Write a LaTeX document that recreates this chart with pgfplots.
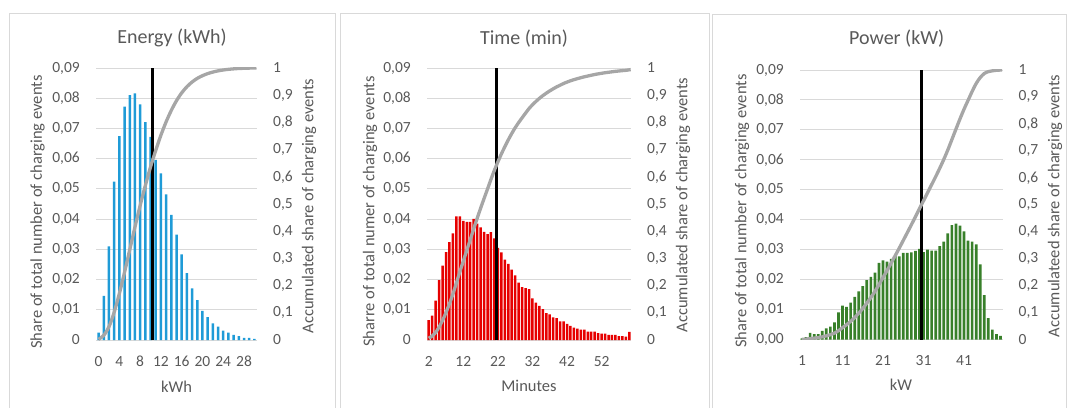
\documentclass[border=0pt]{standalone}
\usepackage{pgfplots}
\pgfplotsset{compat=1.18}
\usepackage{fontspec}
\setmainfont{Carlito}
\definecolor{txt}{HTML}{595959}
\definecolor{gridc}{HTML}{D9D9D9}
\definecolor{framec}{HTML}{D9D9D9}
\definecolor{cum}{HTML}{A6A6A6}
\definecolor{eblue}{HTML}{1F9BD7}
\definecolor{tred}{HTML}{E60000}
\definecolor{pgreen}{HTML}{38802A}
\newcommand{\tickfont}{\fontsize{15.5}{15.5}\selectfont}
\newcommand{\labfont}{\fontsize{16.5}{16.5}\selectfont}
\newcommand{\titfont}{\fontsize{20}{20}\selectfont}
\pgfplotsset{
  base/.style={scale only axis, anchor=south west,
    scaled y ticks=false, scaled x ticks=false,
    /pgf/number format/assume math mode=true,
    /pgf/number format/use comma,
    /pgf/number format/fixed,
    ticklabel style={font=\tickfont, text=txt, inner sep=0pt},
    major tick length=0pt,
    axis line style={draw=none},
    tick style={draw=none},
  },
  leftax/.style={base, ymin=0, ymax=0.09,
    ytick={0,0.01,0.02,0.03,0.04,0.05,0.06,0.07,0.08,0.09},
    ymajorgrids, grid style={gridc, line width=1pt},
    yticklabel style={anchor=east, xshift=-16pt},
    xticklabel style={anchor=north, yshift=-16pt},
    /pgf/number format/precision=2,
  },
  rightax/.style={base, ymin=0, ymax=1,
    ytick={0,0.1,0.2,0.3,0.4,0.5,0.6,0.7,0.8,0.9,1},
    hide x axis, axis y line*=right,
    yticklabel style={anchor=west, xshift=16pt},
    /pgf/number format/precision=1,
  },
  cumline/.style={cum, line width=3.3pt, smooth, no marks},
  medline/.style={black, line width=2.5pt, no marks},
}
\begin{document}
\begin{tikzpicture}[x=1pt,y=1pt]
\path[use as bounding box] (0,0) rectangle (1067,407);
% chart frames
\draw[framec, line width=1pt] (9.5,-5) -- (9.5,393) -- (335.3,393) -- (335.3,-5);
\draw[framec, line width=1pt] (340.3,-5) -- (340.3,393) -- (709,393) -- (709,-5);
\draw[framec, line width=1pt] (712.3,-5) -- (712.3,392) -- (1066,392) -- (1066,-5);

% ================= Energy =================
\begin{axis}[leftax, at={(96pt,67pt)}, width=161pt, height=272pt,
  xmin=-0.5, xmax=30.5, xtick={0,4,8,12,16,20,24,28}]
\addplot[ybar, bar width=2.5pt, fill=eblue, draw=none] coordinates {
(0,0.0024) (1,0.0146) (2,0.0310) (3,0.0524) (4,0.0675) (5,0.0772) (6,0.0810)
(7,0.0816) (8,0.0780) (9,0.0721) (10,0.0672) (11,0.0596) (12,0.0551) (13,0.0482)
(14,0.0414) (15,0.0349) (16,0.0283) (17,0.0221) (18,0.0171) (19,0.0132) (20,0.0096)
(21,0.0076) (22,0.0055) (23,0.0044) (24,0.0031) (25,0.0024) (26,0.0017) (27,0.0013)
(28,0.0007) (29,0.0007) (30,0.0004)};
\addplot[medline] coordinates {(10.35,0) (10.35,0.09)};
\end{axis}
\begin{axis}[rightax, at={(96pt,67pt)}, width=161pt, height=272pt,
  xmin=-0.5, xmax=30.5]
\addplot[cumline] coordinates {
(0,0.0024) (1,0.0173) (2,0.0489) (3,0.1022) (4,0.1709) (5,0.2495) (6,0.3320)
(7,0.4151) (8,0.4945) (9,0.5679) (10,0.6363) (11,0.6969) (12,0.7530) (13,0.8021)
(14,0.8442) (15,0.8798) (16,0.9086) (17,0.9311) (18,0.9485) (19,0.9619) (20,0.9717)
(21,0.9794) (22,0.9850) (23,0.9895) (24,0.9927) (25,0.9951) (26,0.9968) (27,0.9982)
(28,0.9989) (29,0.9996) (30.4,1.0000)};
\end{axis}

% ================= Time =================
\begin{axis}[leftax, at={(427pt,67pt)}, width=204pt, height=272pt,
  xmin=1.5, xmax=60.5, xtick={2,12,22,32,42,52}]
\addplot[ybar, bar width=2.5pt, fill=tred, draw=none] coordinates {
(2,0.0066) (3,0.0081) (4,0.0130) (5,0.0198) (6,0.0246) (7,0.0291) (8,0.0324)
(9,0.0353) (10,0.0409) (11,0.0409) (12,0.0394) (13,0.0391) (14,0.0391) (15,0.0401)
(16,0.0385) (17,0.0373) (18,0.0358) (19,0.0350) (20,0.0357) (21,0.0336) (22,0.0305)
(23,0.0290) (24,0.0266) (25,0.0252) (26,0.0233) (27,0.0214) (28,0.0190) (29,0.0175)
(30,0.0172) (31,0.0168) (32,0.0138) (33,0.0124) (34,0.0113) (35,0.0102) (36,0.0089)
(37,0.0085) (38,0.0075) (39,0.0072) (40,0.0062) (41,0.0062) (42,0.0053) (43,0.0047)
(44,0.0041) (45,0.0038) (46,0.0034) (47,0.0034) (48,0.0028) (49,0.0028) (50,0.0028)
(51,0.0023) (52,0.0021) (53,0.0021) (54,0.0017) (55,0.0017) (56,0.0017) (57,0.0013)
(58,0.0013) (59,0.0011) (60,0.0027)};
\addplot[medline] coordinates {(21.6,0) (21.6,0.09)};
\end{axis}
\begin{axis}[rightax, at={(427pt,67pt)}, width=204pt, height=272pt,
  xmin=1.5, xmax=60.5]
\addplot[cumline] coordinates {
(2,0.0066) (3,0.0147) (4,0.0277) (5,0.0475) (6,0.0721) (7,0.1012) (8,0.1336)
(9,0.1689) (10,0.2098) (11,0.2507) (12,0.2901) (13,0.3292) (14,0.3683) (15,0.4084)
(16,0.4469) (17,0.4842) (18,0.5200) (19,0.5550) (20,0.5907) (21,0.6243) (22,0.6548)
(23,0.6838) (24,0.7104) (25,0.7356) (26,0.7589) (27,0.7803) (28,0.7993) (29,0.8168)
(30,0.8340) (31,0.8508) (32,0.8646) (33,0.8770) (34,0.8883) (35,0.8985) (36,0.9074)
(37,0.9159) (38,0.9234) (39,0.9306) (40,0.9368) (41,0.9430) (42,0.9483) (43,0.9530)
(44,0.9571) (45,0.9609) (46,0.9643) (47,0.9677) (48,0.9705) (49,0.9733) (50,0.9761)
(51,0.9784) (52,0.9805) (53,0.9826) (54,0.9843) (55,0.9860) (56,0.9877) (57,0.9890)
(58,0.9903) (59,0.9914) (60.4,0.9941)};
\end{axis}

% ================= Power =================
\begin{axis}[leftax, at={(800pt,67.5pt)}, width=202.5pt, height=269.5pt,
  xmin=0.5, xmax=50.5, xtick={1,11,21,31,41},
  yticklabel style={/pgf/number format/fixed zerofill}]
\addplot[ybar, bar width=2.7pt, fill=pgreen, draw=none] coordinates {
(1,0.0004) (2,0.0008) (3,0.0022) (4,0.0018) (5,0.0018) (6,0.0029) (7,0.0037)
(8,0.0043) (9,0.0057) (10,0.0091) (11,0.0113) (12,0.0109) (13,0.0123) (14,0.0142)
(15,0.0161) (16,0.0178) (17,0.0198) (18,0.0209) (19,0.0223) (20,0.0256) (21,0.0264)
(22,0.0260) (23,0.0269) (24,0.0279) (25,0.0278) (26,0.0289) (27,0.0289) (28,0.0291)
(29,0.0296) (30,0.0303) (31,0.0292) (32,0.0300) (33,0.0297) (34,0.0297) (35,0.0312)
(36,0.0327) (37,0.0354) (38,0.0382) (39,0.0387) (40,0.0380) (41,0.0361) (42,0.0330)
(43,0.0327) (44,0.0318) (45,0.0251) (46,0.0148) (47,0.0071) (48,0.0033) (49,0.0018)
(50,0.0012)};
\addplot[medline] coordinates {(30.5,0) (30.5,0.09)};
\end{axis}
\begin{axis}[rightax, at={(800pt,67.5pt)}, width=202.5pt, height=269.5pt,
  xmin=0.5, xmax=50.5]
\addplot[cumline] coordinates {
(1,0.0004) (2,0.0012) (3,0.0034) (4,0.0052) (5,0.0070) (6,0.0099) (7,0.0136)
(8,0.0179) (9,0.0236) (10,0.0327) (11,0.0440) (12,0.0549) (13,0.0672) (14,0.0814)
(15,0.0975) (16,0.1153) (17,0.1351) (18,0.1560) (19,0.1783) (20,0.2039) (21,0.2303)
(22,0.2563) (23,0.2832) (24,0.3111) (25,0.3389) (26,0.3678) (27,0.3967) (28,0.4258)
(29,0.4554) (30,0.4857) (31,0.5149) (32,0.5449) (33,0.5746) (34,0.6043) (35,0.6355)
(36,0.6682) (37,0.7036) (38,0.7418) (39,0.7805) (40,0.8185) (41,0.8546) (42,0.8876)
(43,0.9203) (44,0.9500) (45,0.9720) (46,0.9870) (47,0.9940) (48,0.9970) (49,0.9990)
(50.4,1.0000)};
\end{axis}

% ================= texts =================
\node[text=txt, font=\titfont] at (172,368.7) {Energy (kWh)};
\node[text=txt, font=\titfont] at (524,368.7) {Time (min)};
\node[text=txt, font=\titfont] at (896.7,368.7) {Power (kW)};
\node[text=txt, font=\labfont] at (176.5,20.7) {kWh};
\node[text=txt, font=\labfont] at (529,20.7) {Minutes};
\node[text=txt, font=\labfont] at (901,22) {kW};
\node[text=txt, font=\labfont, rotate=90] at (37.5,195) {Share of total number of charging events};
\node[text=txt, font=\labfont, rotate=90] at (309,201) {Accumulated share of charging events};
\node[text=txt, font=\labfont, rotate=90] at (370,195.5) {Sharre of total numer of charging events};
\node[text=txt, font=\labfont, rotate=90] at (683,202) {Accumulated share of charging events};
\node[text=txt, font=\labfont, rotate=90] at (742,196) {Share of total number of charging events};
\node[text=txt, font=\labfont, rotate=90] at (1055,201) {Accumulateed share of charging events};
\end{tikzpicture}
\end{document}
